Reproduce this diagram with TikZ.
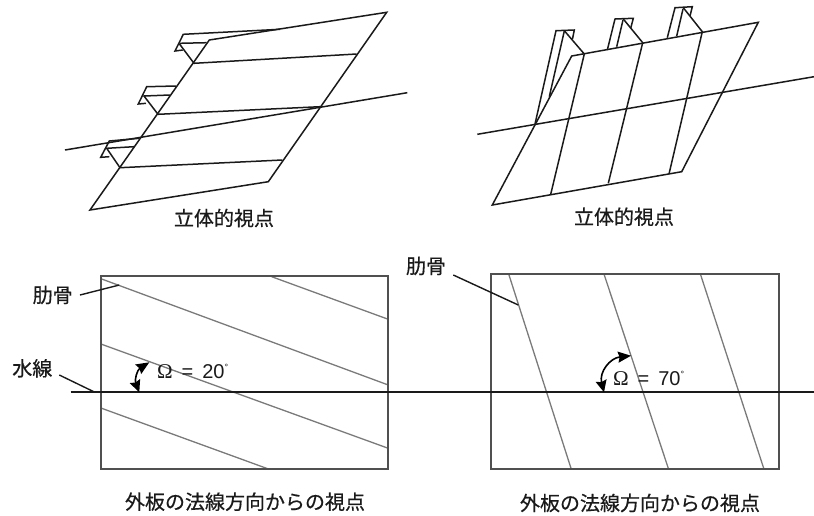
\documentclass[tikz,border=0pt]{standalone}
\usepackage{fontspec}
\setmainfont{Noto Sans CJK JP}[RawFeature={embolden=0.5}]
\newfontfamily\omegafont{Liberation Serif}
\newfontfamily\numfont{Liberation Sans}
\usetikzlibrary{arrows.meta}
\definecolor{inkc}{HTML}{1A1A1A}
\definecolor{framec}{HTML}{505050}
\definecolor{ribc}{HTML}{7A7A7A}
\tikzset{
  ink/.style={draw=inkc,line width=1.5pt,line join=miter},
  waterline/.style={draw=inkc,line width=1.8pt},
  frameline/.style={draw=framec,line width=1.7pt},
  ribline/.style={draw=ribc,line width=1.3pt},
  leader/.style={draw=inkc,line width=1.4pt},
  captext/.style={font=\fontsize{20}{22}\selectfont,text=inkc,inner sep=0pt},
  lab/.style={font=\fontsize{20}{22}\selectfont,text=inkc,inner sep=0pt},
  val/.style={font=\fontsize{20}{22}\selectfont,text=inkc,inner sep=0pt,anchor=west},
  angarrow/.style={draw=black,line width=1.6pt,{Stealth[length=12pt,width=11pt,inset=1.5pt]}-{Stealth[length=13pt,width=11pt,inset=1.5pt]}}
}
\newcommand{\omegaval}[1]{{\omegafont\fontsize{21}{22}\selectfont\char"03A9}{\numfont\ \,=\ \,#1\raisebox{8pt}{\fontsize{9}{9}\selectfont\char"00B0}}}
\begin{document}
\begin{tikzpicture}[x=1pt,y=-1pt]
\useasboundingbox (0,0) rectangle (814,515);
% --- upper left
\draw[ink] (386.7,12.3) -- (209.3,40) -- (90,210) -- (268.3,181.7) -- cycle;
\draw[ink] (65,150) -- (407.3,92.7);
\draw[ink] (280,29.3) -- (183.3,34.3) -- (175,51) -- (182.7,50);
\draw[ink] (179.3,43.3) -- (206.7,42.7);
\draw[ink] (179.5,44) -- (194,63.3) -- (356.7,54);
\draw[ink] (176,86) -- (146.7,86.7) -- (138.3,104) -- (146,103.3);
\draw[ink] (170,95) -- (144,96) -- (158,114.3) -- (320,106.7);
\draw[ink] (139.3,138.3) -- (109.3,141) -- (100.7,157.3) -- (109.3,156.7);
\draw[ink] (134,146.7) -- (106.7,148.3) -- (120,167.7) -- (282.3,160);
\node[captext] (capa) at (224,218) {立体的視点};
% --- upper right
\draw[ink] (758.3,22.3) -- (571.7,56) -- (492.3,205) -- (681.7,171.7) -- cycle;
\draw[ink] (477.3,134.3) -- (814,76.7);
\draw[ink] (535,124) -- (556,30.7) -- (574.3,30) -- (572.5,39);
\draw[ink] (564.3,30.7) -- (584.3,54) -- (550.7,194.3);
\draw[ink] (564.3,31) -- (549.3,96.7);
\draw[ink] (607.3,50) -- (615,19) -- (633.3,18.3) -- (630.7,28.3);
\draw[ink] (623.3,19) -- (642.7,42.7) -- (608.3,183.3);
\draw[ink] (623,20) -- (616.7,46.7);
\draw[ink] (667.3,37.7) -- (675,7.7) -- (692.3,6.7) -- (690,16);
\draw[ink] (683.3,7.7) -- (702.3,31.7) -- (669,174);
\draw[ink] (683,9) -- (676.7,36);
\node[captext] (capb) at (624,216.7) {立体的視点};
% --- lower left
\draw[ribline] (101.7,279) -- (388.3,385);
\draw[ribline] (271.7,276.7) -- (388.3,319.3);
\draw[ribline] (101.7,344.3) -- (388.3,448.3);
\draw[ribline] (101.7,408.3) -- (269.3,469.3);
\draw[frameline] (100.7,275.7) rectangle (388.3,469.3);
% --- lower right
\draw[ribline] (509,275) -- (571,468.3);
\draw[ribline] (604.3,275) -- (668.3,468.3);
\draw[ribline] (700.7,275) -- (763.7,468.3);
\draw[frameline] (491,274) rectangle (779.3,469);
% --- waterline across both
\draw[waterline] (70.7,392.3) -- (814,392.3);
% --- labels and leaders
\node[lab] (riba) at (52.7,295) {肋骨};
\coordinate (ribat) at (119.3,285);
\coordinate (ribaf) at (80,295);
\draw[leader] (ribaf) -- (ribat);
\node[lab] (wl) at (32.3,368.3) {水線};
\coordinate (wlf) at (59.3,375);
\coordinate (wlt) at (95,392.3);
\draw[leader] (wlf) -- (wlt);
\node[lab] (ribb) at (426,266) {肋骨};
\coordinate (ribbf) at (453.3,275);
\coordinate (ribbt) at (518.3,305);
\draw[leader] (ribbf) -- (ribbt);
% --- angles
\coordinate (anga) at (139.3,392.3);
\coordinate (angaa) at (149.3,362.3);
\draw[angarrow] (anga) .. controls (134.5,380) and (137,370) .. (angaa);
\node[val] (vala) at (157,371) {\omegaval{20}};
\coordinate (angb) at (604,392.3);
\coordinate (angbb) at (631,355.7);
\draw[angarrow] (angb) .. controls (599,372) and (610,358) .. (angbb);
\node[val] (valb) at (613,378) {\omegaval{70}};
% --- captions
\node[captext] (capc) at (245,501.7) {外板の法線方向からの視点};
\node[captext] (capd) at (640,503) {外板の法線方向からの視点};
\end{tikzpicture}
\end{document}
